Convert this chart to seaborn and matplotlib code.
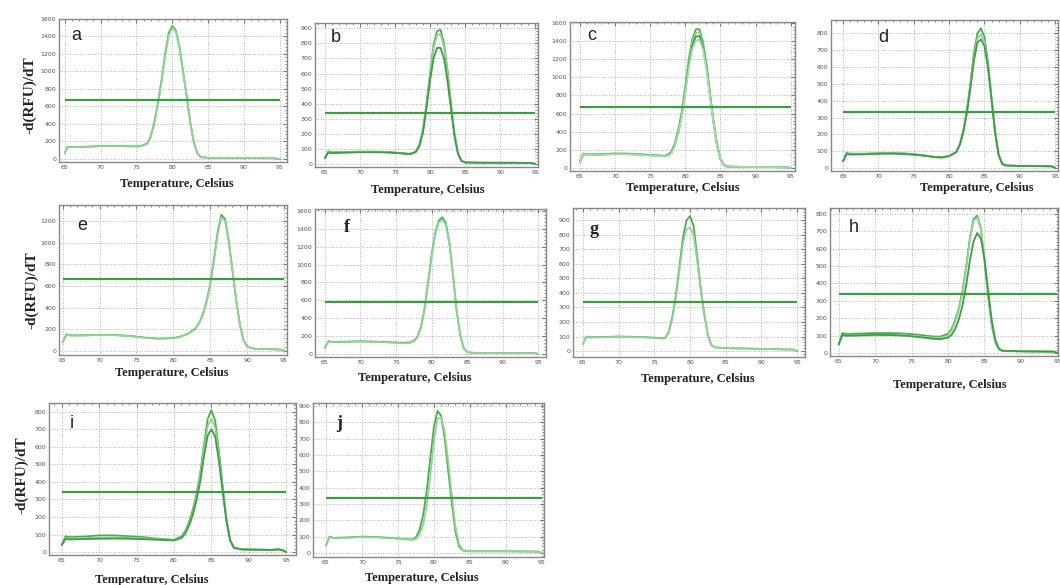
# Melt curves (-d(RFU)/dT vs temperature) for ten primer sets, panels a-j

import pandas as pd
import matplotlib.pyplot as plt
import seaborn as sns
from matplotlib.ticker import MultipleLocator

# ---- data ----
panel_letters = ["a", "b", "c", "d", "e", "f", "g", "h", "i", "j"]
thresholds = [670, 335, 670, 335, 665, 580, 335, 340, 340, 335]

temps_a = [65, 65.4, 66, 68, 70, 72, 74, 75.5, 76.5, 77, 77.5, 78, 78.5, 79, 79.5, 80, 80.5, 81, 81.5, 82, 82.5, 83, 83.5, 84, 85, 90, 94, 95]
curve_a1 = [70, 140, 135, 140, 148, 150, 145, 145, 175, 260, 420, 640, 900, 1200, 1440, 1520, 1470, 1280, 1000, 720, 420, 190, 60, 20, 12, 10, 8, 0]
curve_a2 = [70, 138, 133, 138, 145, 147, 143, 143, 170, 250, 405, 620, 875, 1170, 1410, 1500, 1455, 1275, 1000, 725, 425, 195, 62, 20, 12, 10, 8, 0]

temps_b = [65, 65.5, 66, 68, 70, 72, 74, 76, 77, 77.5, 78, 78.5, 79, 79.5, 80, 80.5, 81, 81.5, 82, 82.5, 83, 83.5, 84, 84.5, 85, 88, 92, 94.5, 95]
curve_b1 = [40, 85, 78, 80, 82, 82, 80, 72, 68, 72, 85, 130, 230, 400, 600, 790, 880, 890, 800, 620, 400, 200, 70, 20, 10, 8, 8, 6, 0]
curve_b2 = [40, 75, 72, 75, 78, 78, 76, 70, 65, 70, 80, 120, 210, 370, 550, 700, 770, 770, 700, 550, 360, 180, 65, 20, 10, 8, 8, 6, 0]
curve_b3 = [40, 80, 75, 78, 80, 80, 78, 71, 66, 71, 83, 126, 222, 390, 585, 765, 855, 860, 775, 600, 390, 195, 68, 20, 10, 8, 8, 6, 0]

temps_c = [65, 65.5, 66, 68, 70, 72, 74, 76, 77, 77.5, 78, 78.5, 79, 79.5, 80, 80.5, 81, 81.5, 82, 82.5, 83, 83.5, 84, 84.5, 85, 85.5, 86, 88, 92, 94.5, 95]
curve_c1 = [70, 160, 150, 152, 160, 158, 150, 140, 135, 145, 180, 270, 420, 620, 900, 1200, 1420, 1530, 1530, 1400, 1150, 830, 520, 260, 100, 35, 15, 12, 10, 8, 0]
curve_c2 = [70, 155, 148, 150, 158, 156, 148, 138, 132, 140, 172, 258, 405, 600, 875, 1170, 1385, 1490, 1495, 1370, 1130, 820, 515, 258, 100, 35, 15, 12, 10, 8, 0]
curve_c3 = [70, 150, 145, 148, 155, 153, 145, 135, 130, 136, 165, 248, 390, 580, 850, 1140, 1350, 1450, 1455, 1340, 1110, 805, 510, 255, 98, 34, 15, 12, 10, 8, 0]
curve_c4 = [70, 150, 144, 147, 153, 151, 143, 133, 128, 133, 160, 240, 378, 565, 825, 1105, 1310, 1405, 1415, 1310, 1090, 795, 505, 252, 97, 34, 15, 12, 10, 8, 0]

temps_d = [65, 65.5, 66, 68, 70, 72, 74, 76, 78, 79, 80, 81, 81.5, 82, 82.5, 83, 83.5, 84, 84.5, 85, 85.5, 86, 86.5, 87, 87.5, 88, 90, 94.5, 95]
curve_d1 = [40, 90, 85, 85, 88, 90, 86, 78, 65, 62, 70, 95, 140, 220, 340, 500, 680, 800, 830, 780, 630, 420, 220, 80, 25, 15, 12, 10, 0]
curve_d2 = [40, 85, 82, 83, 86, 88, 84, 76, 66, 64, 72, 96, 138, 215, 330, 485, 655, 770, 795, 750, 610, 410, 215, 80, 25, 15, 12, 10, 0]
curve_d3 = [40, 82, 80, 81, 84, 85, 82, 75, 64, 63, 71, 94, 135, 210, 322, 470, 635, 745, 765, 725, 595, 405, 212, 78, 25, 15, 12, 10, 0]

temps_e = [65, 65.5, 66, 68, 70, 72, 74, 76, 78, 80, 81, 82, 83, 83.5, 84, 84.5, 85, 85.5, 86, 86.5, 87, 87.5, 88, 88.5, 89, 89.5, 90, 91, 94, 94.8, 95]
curve_e1 = [80, 155, 145, 145, 150, 148, 140, 125, 115, 120, 135, 160, 210, 260, 340, 460, 620, 850, 1100, 1260, 1220, 1020, 750, 480, 250, 100, 40, 20, 15, 10, 0]
curve_e2 = [80, 150, 142, 143, 148, 146, 138, 123, 113, 118, 132, 157, 205, 255, 332, 450, 605, 830, 1075, 1235, 1205, 1010, 745, 480, 252, 102, 40, 20, 15, 10, 0]

temps_f = [65, 65.5, 66, 68, 70, 72, 74, 76, 77, 77.5, 78, 78.5, 79, 79.5, 80, 80.5, 81, 81.5, 82, 82.5, 83, 83.5, 84, 84.5, 85, 86, 90, 94.5, 95]
curve_f1 = [70, 145, 135, 138, 142, 138, 132, 125, 130, 150, 190, 300, 500, 800, 1100, 1350, 1490, 1530, 1470, 1250, 900, 500, 220, 70, 20, 12, 10, 10, 0]
curve_f2 = [70, 140, 132, 135, 138, 135, 128, 120, 124, 143, 182, 290, 485, 780, 1080, 1330, 1470, 1500, 1450, 1240, 900, 505, 225, 72, 20, 12, 10, 10, 0]

temps_g = [65, 65.5, 66, 68, 70, 72, 74, 76, 76.5, 77, 77.5, 78, 78.5, 79, 79.5, 80, 80.5, 81, 81.5, 82, 82.5, 83, 83.5, 85, 90, 94.5, 95]
curve_g1 = [50, 100, 95, 97, 100, 98, 95, 88, 90, 130, 230, 380, 580, 780, 900, 930, 860, 650, 430, 250, 110, 40, 25, 20, 15, 10, 0]
curve_g2 = [50, 98, 93, 95, 98, 96, 93, 86, 88, 125, 220, 360, 550, 740, 840, 850, 800, 620, 420, 245, 108, 40, 25, 20, 15, 10, 0]

temps_h = [65, 65.5, 66, 68, 70, 72, 74, 76, 78, 79, 80, 80.5, 81, 81.5, 82, 82.5, 83, 83.5, 84, 84.5, 85, 85.5, 86, 86.5, 87, 87.5, 90, 94.5, 95]
curve_h1 = [50, 115, 110, 112, 115, 115, 112, 105, 95, 95, 110, 140, 190, 260, 360, 500, 660, 770, 790, 720, 540, 330, 160, 60, 20, 12, 10, 8, 0]
curve_h2 = [50, 100, 98, 100, 102, 103, 100, 95, 88, 88, 100, 130, 180, 250, 350, 490, 650, 760, 780, 715, 545, 340, 170, 65, 22, 12, 10, 8, 0]
curve_h3 = [50, 105, 100, 102, 105, 104, 100, 92, 82, 80, 88, 105, 140, 195, 275, 390, 530, 640, 690, 660, 540, 360, 190, 75, 25, 13, 10, 8, 0]

temps_i = [65, 65.5, 66, 68, 70, 72, 74, 76, 78, 80, 81, 81.5, 82, 82.5, 83, 83.5, 84, 84.5, 85, 85.5, 86, 86.5, 87, 87.5, 88, 89, 93, 94, 94.5, 95]
curve_i1 = [40, 90, 85, 88, 95, 95, 90, 85, 75, 70, 90, 120, 170, 240, 330, 450, 610, 760, 810, 750, 580, 380, 190, 70, 25, 15, 12, 15, 10, 0]
curve_i2 = [40, 80, 78, 80, 82, 83, 82, 78, 72, 68, 85, 112, 160, 225, 315, 430, 585, 720, 760, 710, 555, 365, 185, 68, 25, 15, 12, 15, 10, 0]
curve_i3 = [40, 75, 72, 74, 76, 77, 76, 73, 70, 66, 80, 105, 150, 210, 295, 400, 545, 665, 700, 660, 520, 345, 178, 66, 24, 15, 12, 15, 10, 0]

temps_j = [65, 65.5, 66, 68, 70, 72, 74, 76, 77, 77.5, 78, 78.5, 79, 79.5, 80, 80.5, 81, 81.5, 82, 82.5, 83, 83.5, 84, 85, 90, 94.5, 95]
curve_j1 = [45, 100, 92, 95, 100, 97, 92, 85, 82, 95, 140, 230, 380, 580, 770, 870, 840, 700, 500, 300, 130, 40, 15, 10, 10, 8, 0]
curve_j2 = [45, 95, 90, 92, 98, 95, 90, 83, 80, 85, 110, 170, 290, 470, 680, 820, 830, 740, 560, 350, 160, 55, 18, 10, 10, 8, 0]

y_tops = [1600, 900, 1600, 800, 1200, 1600, 900, 800, 800, 900]
y_steps = [200, 100, 200, 100, 200, 200, 100, 100, 100, 100]

temps = [temps_a, temps_b, temps_c, temps_d, temps_e, temps_f, temps_g, temps_h, temps_i, temps_j]
curves = [
    [curve_a1, curve_a2],
    [curve_b1, curve_b3, curve_b2],
    [curve_c1, curve_c2, curve_c3, curve_c4],
    [curve_d1, curve_d2, curve_d3],
    [curve_e1, curve_e2],
    [curve_f1, curve_f2],
    [curve_g1, curve_g2],
    [curve_h1, curve_h2, curve_h3],
    [curve_i1, curve_i2, curve_i3],
    [curve_j1, curve_j2],
]

# ---- layout (pixel boxes: left, top, right, bottom) ----
W, H = 1060, 585
boxes = [
    (59, 19, 287, 162), (315, 23, 538, 167), (570, 22, 795, 171), (831, 20, 1058, 171),
    (59, 205, 287, 355), (315, 209, 546, 357), (573, 208, 805, 357), (830, 208, 1058, 356),
    (49, 403, 296, 555), (313, 403, 544, 557),
]
xlims = [(64.2, 96.0), (63.6, 95.4), (63.6, 95.6), (63.3, 95.4), (64.5, 95.4),
         (63.6, 96.1), (63.6, 96.1), (63.8, 95.1), (63.3, 96.3), (63.2, 95.3)]
ylims = [(-35, 1600), (-20, 935), (-33, 1610), (-18, 880), (-37, 1350),
         (-34, 1622), (-41, 985), (-17, 834), (-17, 851), (-25, 918)]
letter_pos = [(76, 36), (336, 38), (592, 36), (883, 37), (82, 226),
              (347, 228), (594, 230), (854, 227), (72, 423), (339, 423)]
xlabel_pos = [(177, 184), (428, 190), (683, 188), (977, 188), (172, 373),
              (415, 378), (698, 379), (950, 385), (152, 580), (422, 578)]
ylabel_pos = [(30, 95), (32, 290), (22, 475)]

greens = ["#4cab52", "#93d396", "#3e9c46", "#a8dcaa"]
thr_color = "#3a9e40"

sns.set_style("white")
fig = plt.figure(figsize=(W / 100, H / 100), dpi=100)


def px_box(l, t, r, b):
    return [l / W, 1 - b / H, (r - l) / W, (b - t) / H]


for k, letter in enumerate(panel_letters):
    ax = fig.add_axes(px_box(*boxes[k]))
    rows = []
    for r, vals in enumerate(curves[k]):
        rows.append(pd.DataFrame({"temp": temps[k], "value": vals, "rep": f"r{r}"}))
    df = pd.concat(rows, ignore_index=True)
    sns.lineplot(data=df, x="temp", y="value", hue="rep",
                 palette=greens[:len(curves[k])], legend=False,
                 linewidth=1.3, ax=ax)
    ax.hlines(thresholds[k], 65, 95, color=thr_color, lw=1.6)

    ax.set_xlim(*xlims[k])
    ax.set_ylim(*ylims[k])
    ax.set_xticks(range(65, 96, 5))
    ax.set_yticks(range(0, y_tops[k] + 1, y_steps[k]))
    ax.xaxis.set_minor_locator(MultipleLocator(1))
    ax.yaxis.set_minor_locator(MultipleLocator(y_steps[k] / 5))
    ax.tick_params(which="both", direction="in", top=True, right=True,
                   color="#777777", labelsize=4.5, labelcolor="#555555", pad=2)
    ax.tick_params(which="major", length=3)
    ax.tick_params(which="minor", length=1.5)
    ax.grid(True, which="major", ls=":", color="#b5b5b5", lw=0.7)
    for sp in ax.spines.values():
        sp.set_color("#888888")
        sp.set_linewidth(1.0)
    ax.set_xlabel("")
    ax.set_ylabel("")

    lx, ly = letter_pos[k]
    if letter in ("f", "g", "j"):
        fig.text(lx / W, 1 - ly / H, letter, fontsize=13, family="Liberation Serif",
                 weight="bold", color="#222222", ha="center", va="center")
    else:
        fig.text(lx / W, 1 - ly / H, letter, fontsize=13, family="Liberation Sans",
                 color="#222222", ha="center", va="center")

    tx, ty = xlabel_pos[k]
    fig.text(tx / W, 1 - ty / H, "Temperature, Celsius", fontsize=9,
             family="Liberation Serif", weight="bold", color="#222222",
             ha="center", va="center")

for yx, yy in ylabel_pos:
    fig.text(yx / W, 1 - yy / H, "-d(RFU)/dT", fontsize=11, rotation=90,
             family="Liberation Serif", weight="bold", color="#222222",
             ha="center", va="center")

fig.savefig("out.png", dpi=100, facecolor="white")
